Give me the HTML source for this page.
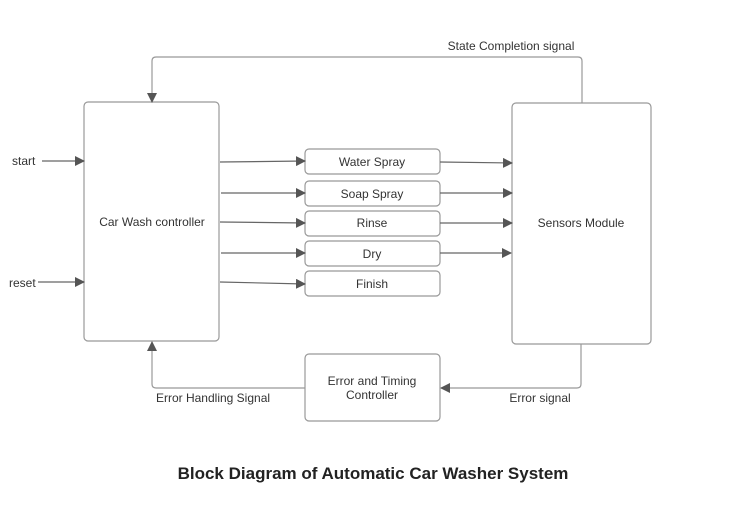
<!DOCTYPE html>
<html><head><meta charset="utf-8"><style>
html,body{margin:0;padding:0;background:#fff}
svg{display:block}
text{font-family:"Liberation Sans",Arial,sans-serif;fill:#333;font-size:12px}
</style></head><body>
<svg width="740" height="510" viewBox="0 0 740 510" xmlns="http://www.w3.org/2000/svg">
<defs><marker id="a" markerWidth="10" markerHeight="10" refX="9" refY="5" orient="auto" markerUnits="userSpaceOnUse"><path d="M0,0 L10,5 L0,10 z" fill="#555"/></marker></defs>
<g fill="none" stroke="#999" stroke-width="1.2">
<rect x="84" y="102" width="135" height="239" rx="4"/>
<rect x="512" y="103" width="139" height="241" rx="4"/>
<rect x="305" y="149" width="135" height="25" rx="4"/>
<rect x="305" y="181" width="135" height="25" rx="4"/>
<rect x="305" y="211" width="135" height="25" rx="4"/>
<rect x="305" y="241" width="135" height="25" rx="4"/>
<rect x="305" y="271" width="135" height="25" rx="4"/>
<rect x="305" y="354" width="135" height="67" rx="4"/>
</g>
<g fill="none" stroke="#666" stroke-width="1.2" marker-end="url(#a)">
<line x1="42" y1="161" x2="84" y2="161"/>
<line x1="38" y1="282" x2="84" y2="282"/>
<line x1="220" y1="162" x2="305" y2="161"/>
<line x1="221" y1="193" x2="305" y2="193"/>
<line x1="220" y1="222" x2="305" y2="223"/>
<line x1="221" y1="253" x2="305" y2="253"/>
<line x1="220" y1="282" x2="305" y2="284"/>
<line x1="440" y1="162" x2="512" y2="163"/>
<line x1="440" y1="193" x2="512" y2="193"/>
<line x1="440" y1="223" x2="512" y2="223"/>
<line x1="440" y1="253" x2="511" y2="253"/>
</g>
<g fill="none" stroke="#999" stroke-width="1.2" marker-end="url(#a)">
<path d="M582 103 V61 Q582 57 578 57 H156 Q152 57 152 61 V102"/>
<path d="M581 344 V384 Q581 388 577 388 H441"/>
<path d="M305 388 H156 Q152 388 152 384 V342"/>
</g>
<text x="511" y="50" text-anchor="middle">State Completion signal</text>
<text x="12" y="165">start</text>
<text x="9" y="287">reset</text>
<text x="152" y="226" text-anchor="middle">Car Wash controller</text>
<text x="581" y="227" text-anchor="middle">Sensors Module</text>
<text x="372" y="166" text-anchor="middle">Water Spray</text>
<text x="372" y="198" text-anchor="middle">Soap Spray</text>
<text x="372" y="227" text-anchor="middle">Rinse</text>
<text x="372" y="258" text-anchor="middle">Dry</text>
<text x="372" y="288" text-anchor="middle">Finish</text>
<text x="372" y="385" text-anchor="middle">Error and Timing</text>
<text x="372" y="399" text-anchor="middle">Controller</text>
<text x="213" y="402" text-anchor="middle">Error Handling Signal</text>
<text x="540" y="402" text-anchor="middle">Error signal</text>
<text x="373" y="479" text-anchor="middle" style="font-size:17px;font-weight:bold;fill:#222">Block Diagram of Automatic Car Washer System</text>
</svg>
</body></html>
